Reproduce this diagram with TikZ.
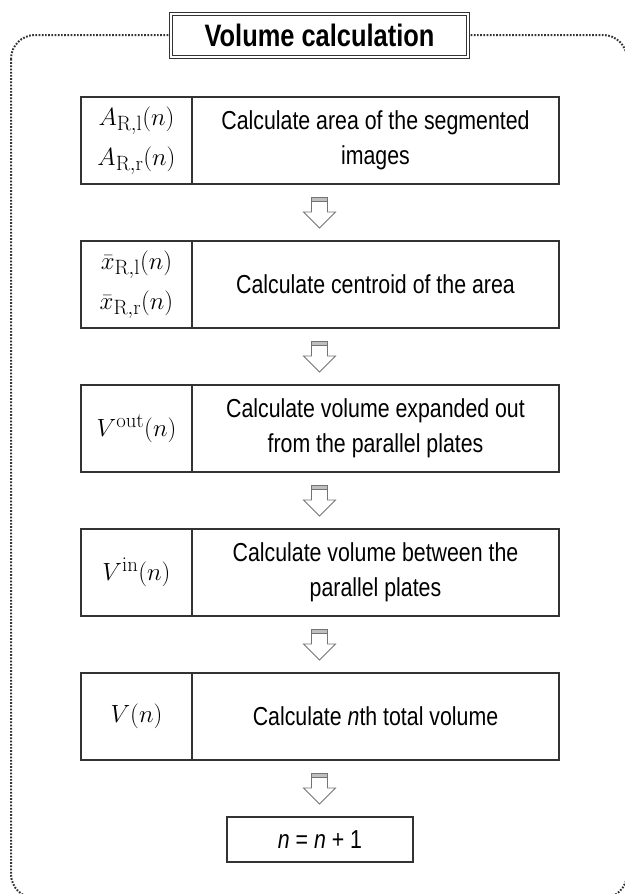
\documentclass[tikz,border=0pt]{standalone}
\usepackage{amsmath}
\usepackage[no-math]{fontspec}
\setmainfont[FakeStretch=0.82]{Liberation Sans}
\usetikzlibrary{positioning,calc}

\tikzset{
    % hollow down arrow with a shaded cap
    hollowdown/.pic={
        \draw[black!55, line width=0.9pt, fill=white, line join=miter]
            (-8,4) -- (-8,15) -- (-16,15) -- (0,31) -- (16,15) -- (8,15) -- (8,4);
        \draw[black!55, line width=0.9pt, fill=black!25] (-8,0) rectangle (8,4);
    }
}

\begin{document}
\begin{tikzpicture}[
    x=1pt, y=-1pt,
    font=\fontsize{26}{35}\selectfont,
    % --- node styles -------------------------------------------------
    symcell/.style={
        draw=black!80, line width=1.3pt, outer sep=0pt, inner sep=0pt,
        minimum width=111pt, minimum height=87pt, align=center,
        font=\fontsize{28}{34}\selectfont
    },
    textcell/.style={
        draw=black!80, line width=1.3pt, outer sep=0pt, inner sep=0pt,
        minimum width=367pt, minimum height=87pt, align=center
    },
    countcell/.style={
        draw=black!80, line width=1.3pt, outer sep=0pt, inner sep=0pt,
        minimum width=186pt, minimum height=45pt
    },
    titlebox/.style={
        draw=black!80, line width=1.2pt, double=white, double distance=2pt,
        fill=white, inner sep=0pt, minimum width=296.6pt, minimum height=42.6pt,
        font=\fontsize{31}{36}\selectfont\bfseries
    },
    frame/.style={
        black!80, line width=2pt, dash pattern=on 1.7pt off 1.5pt,
        rounded corners=24pt
    }
]
\useasboundingbox (0,0) rectangle (624,894);

% --- dotted outer frame and title ----------------------------------
\draw[frame] (11,35) rectangle (627,898);
\node[titlebox] (title) at (319.5,35.5) {Volume calculation};

% --- calculation steps ----------------------------------------------
\node[symcell] (sym1) at (136.5,140.5)
    {$A_{\mathrm{R,l}}(n)$\\[6pt] $A_{\mathrm{R,r}}(n)$};
\node[textcell, right=0pt of sym1] (txt1)
    {Calculate area of the segmented\\images};

\node[symcell, below=57pt of sym1] (sym2)
    {$\bar{x}_{\mathrm{R,l}}(n)$\\[6pt] $\bar{x}_{\mathrm{R,r}}(n)$};
\node[textcell, right=0pt of sym2] (txt2)
    {Calculate centroid of the area};

\node[symcell, below=57pt of sym2] (sym3) {$V^{\mathrm{out}}(n)$};
\node[textcell, right=0pt of sym3] (txt3)
    {Calculate volume expanded out\\from the parallel plates};

\node[symcell, below=57pt of sym3] (sym4) {$V^{\mathrm{in}}(n)$};
\node[textcell, right=0pt of sym4] (txt4)
    {Calculate volume between the\\parallel plates};

\node[symcell, below=57pt of sym4] (sym5) {$V(n)$};
\node[textcell, right=0pt of sym5] (txt5)
    {Calculate \textit{n}th total volume};

% --- counter ----------------------------------------------------------
\node[countcell] (incr) at (320,839.5) {\textit{n} = \textit{n} + 1};

% --- arrows between steps ----------------------------------------------
\foreach \i in {1,...,5}
    \pic at ($(title.south |- txt\i.south)+(0,13)$) {hollowdown};

\end{tikzpicture}
\end{document}
